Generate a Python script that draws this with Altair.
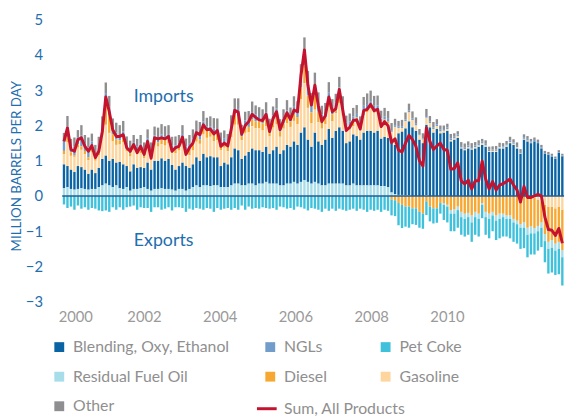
import altair as alt
import pandas as pd

# ---- monthly values, Jan 2000 .. Dec 2011 (million barrels per day, net imports > 0) ----
blend = [
    0.68, 0.60, 0.55, 0.50, 0.65, 0.60, 0.55, 0.45, 0.55, 0.45, 0.55, 0.75,
    0.80, 0.70, 0.80, 0.65, 0.75, 0.70, 0.60, 0.55, 0.70, 0.60, 0.60, 0.55,
    0.75, 0.60, 0.80, 0.80, 0.85, 0.80, 0.85, 0.70, 0.60, 0.65, 0.75, 0.70,
    0.60, 0.65, 0.80, 0.75, 0.90, 0.80, 0.85, 0.80, 0.80, 0.60, 0.70, 0.65,
    0.80, 1.00, 0.95, 0.75, 0.85, 0.90, 1.00, 1.00, 0.95, 0.90, 1.00, 0.85,
    0.95, 1.05, 0.90, 1.00, 1.10, 1.05, 1.15, 1.10, 1.40, 1.50, 1.20, 1.05,
    1.40, 1.20, 1.15, 1.30, 1.55, 1.30, 1.50, 1.60, 1.50, 1.20, 1.25, 1.40,
    1.40, 1.30, 1.50, 1.55, 1.55, 1.50, 1.55, 1.35, 1.40, 1.40, 1.45, 1.40,
    1.75, 1.80, 1.90, 2.10, 1.95, 1.85, 1.60, 1.50, 2.00, 1.95, 1.80, 1.90,
    1.78, 1.80, 1.85, 1.55, 1.60, 1.65, 1.35, 1.30, 1.35, 1.32, 1.35, 1.40,
    1.45, 1.40, 1.25, 1.25, 1.25, 1.35, 1.35, 1.40, 1.50, 1.45, 1.35, 1.20,
    1.60, 1.55, 1.50, 1.55, 1.50, 1.35, 1.20, 1.17, 1.12, 1.05, 1.22, 1.13,
]
ngls = [
    0.28, 0.30, 0.20, 0.25, 0.20, 0.30, 0.20, 0.28, 0.20, 0.12, 0.15, 0.15,
    0.20, 0.25, 0.20, 0.20, 0.15, 0.15, 0.10, 0.10, 0.10, 0.12, 0.15, 0.15,
    0.15, 0.10, 0.12, 0.12, 0.12, 0.12, 0.15, 0.12, 0.12, 0.12, 0.15, 0.12,
    0.12, 0.10, 0.15, 0.20, 0.15, 0.12, 0.15, 0.15, 0.12, 0.10, 0.12, 0.12,
    0.12, 0.15, 0.20, 0.12, 0.15, 0.20, 0.20, 0.20, 0.15, 0.15, 0.20, 0.15,
    0.15, 0.20, 0.15, 0.15, 0.15, 0.15, 0.20, 0.20, 0.30, 0.40, 0.35, 0.25,
    0.30, 0.25, 0.20, 0.15, 0.20, 0.15, 0.15, 0.20, 0.15, 0.10, 0.12, 0.12,
    0.10, 0.08, 0.12, 0.12, 0.10, 0.10, 0.10, 0.08, 0.08, 0.08, 0.05, 0.05,
    0.05, 0.05, 0.05, 0.05, 0.05, 0.05, 0.03, 0.03, 0.05, 0.05, 0.05, 0.05,
    0.05, 0.05, 0.05, 0.05, 0.05, 0.05, 0.05, 0.05, 0.05, 0.05, 0.05, 0.05,
    0.05, 0.05, 0.04, 0.04, 0.04, 0.04, 0.04, 0.04, 0.05, 0.04, 0.04, 0.04,
    0.05, 0.05, 0.04, 0.04, 0.03, 0.03, 0.02, 0.02, 0.02, 0.02, 0.02, 0.02,
]
pet_coke = [
    -0.24, -0.34, -0.30, -0.39, -0.27, -0.36, -0.32, -0.39, -0.34, -0.36, -0.41, -0.43,
    -0.41, -0.45, -0.32, -0.39, -0.32, -0.39, -0.32, -0.30, -0.27, -0.39, -0.32, -0.34,
    -0.34, -0.45, -0.32, -0.32, -0.39, -0.36, -0.32, -0.41, -0.32, -0.32, -0.34, -0.45,
    -0.36, -0.39, -0.34, -0.36, -0.39, -0.34, -0.36, -0.45, -0.34, -0.39, -0.36, -0.34,
    -0.39, -0.34, -0.39, -0.27, -0.39, -0.30, -0.36, -0.34, -0.36, -0.32, -0.34, -0.36,
    -0.34, -0.39, -0.30, -0.32, -0.36, -0.34, -0.39, -0.30, -0.32, -0.36, -0.41, -0.34,
    -0.36, -0.39, -0.45, -0.36, -0.42, -0.36, -0.42, -0.36, -0.39, -0.42, -0.39, -0.36,
    -0.42, -0.36, -0.39, -0.45, -0.39, -0.42, -0.39, -0.45, -0.39, -0.42, -0.45, -0.45,
    -0.63, -0.66, -0.57, -0.60, -0.45, -0.47, -0.45, -0.43, -0.39, -0.42, -0.43, -0.41,
    -0.30, -0.43, -0.45, -0.50, -0.50, -0.50, -0.50, -0.50, -0.50, -0.55, -0.50, -0.50,
    -0.38, -0.50, -0.55, -0.45, -0.55, -0.55, -0.55, -0.50, -0.55, -0.55, -0.55, -0.60,
    -0.58, -0.64, -0.60, -0.60, -0.55, -0.55, -0.60, -0.70, -0.70, -0.69, -0.72, -0.80,
]
resid = [
    0.22, 0.25, 0.20, 0.18, 0.20, 0.22, 0.20, 0.18, 0.20, 0.20, 0.25, 0.30,
    0.35, 0.30, 0.25, 0.30, 0.22, 0.20, 0.25, 0.15, 0.20, 0.20, 0.22, 0.25,
    0.20, 0.15, 0.20, 0.20, 0.22, 0.20, 0.20, 0.18, 0.15, 0.20, 0.20, 0.15,
    0.20, 0.25, 0.30, 0.25, 0.30, 0.30, 0.28, 0.30, 0.30, 0.25, 0.25, 0.25,
    0.30, 0.35, 0.35, 0.30, 0.30, 0.35, 0.35, 0.30, 0.35, 0.35, 0.40, 0.35,
    0.35, 0.35, 0.30, 0.30, 0.35, 0.35, 0.40, 0.35, 0.40, 0.45, 0.40, 0.35,
    0.40, 0.35, 0.30, 0.30, 0.35, 0.35, 0.35, 0.35, 0.35, 0.30, 0.30, 0.35,
    0.30, 0.30, 0.30, 0.30, 0.30, 0.30, 0.30, 0.28, 0.28, 0.25, 0.10, 0.05,
    0.03, 0.03, 0.02, 0.02, 0.00, 0.00, 0.00, 0.00, 0.02, 0.00, 0.00, 0.00,
    0.00, -0.05, -0.05, -0.10, -0.12, -0.10, -0.15, -0.15, -0.12, -0.20, -0.15, -0.15,
    -0.05, -0.15, -0.15, -0.10, -0.15, -0.15, -0.10, -0.10, -0.10, -0.10, -0.10, -0.10,
    -0.15, -0.20, -0.20, -0.15, -0.15, -0.15, -0.20, -0.20, -0.22, -0.20, -0.20, -0.20,
]
diesel = [
    0.10, 0.15, 0.10, 0.05, 0.10, 0.10, 0.10, 0.08, 0.10, 0.08, 0.08, 0.10,
    0.70, 0.50, 0.20, 0.15, 0.12, 0.15, 0.10, 0.10, 0.12, 0.10, 0.12, 0.10,
    0.12, 0.08, 0.15, 0.12, 0.15, 0.15, 0.12, 0.10, 0.10, 0.10, 0.12, 0.10,
    0.20, 0.25, 0.15, 0.12, 0.20, 0.20, 0.15, 0.20, 0.20, 0.15, 0.15, 0.15,
    0.25, 0.30, 0.25, 0.12, 0.20, 0.15, 0.20, 0.20, 0.20, 0.20, 0.20, 0.15,
    0.20, 0.25, 0.15, 0.15, 0.20, 0.15, 0.20, 0.20, 0.35, 0.50, 0.35, 0.30,
    0.40, 0.30, 0.20, 0.20, 0.20, 0.20, 0.15, 0.25, 0.15, 0.12, 0.12, 0.15,
    0.12, 0.10, 0.15, 0.12, 0.10, 0.10, 0.08, 0.05, 0.05, 0.05, -0.10, -0.12,
    -0.20, -0.25, -0.30, -0.30, -0.35, -0.35, -0.45, -0.50, -0.15, -0.30, -0.35, -0.35,
    -0.20, -0.20, -0.25, -0.40, -0.38, -0.30, -0.45, -0.50, -0.48, -0.55, -0.45, -0.50,
    -0.20, -0.45, -0.50, -0.45, -0.55, -0.50, -0.50, -0.55, -0.55, -0.65, -0.70, -0.80,
    -0.75, -0.90, -0.86, -0.86, -0.75, -0.60, -0.83, -1.00, -0.95, -1.00, -1.00, -1.14,
]
gasoline = [
    0.28, 0.67, 0.39, 0.43, 0.52, 0.49, 0.43, 0.39, 0.50, 0.35, 0.35, 0.66,
    0.87, 0.79, 0.50, 0.50, 0.49, 0.63, 0.42, 0.42, 0.41, 0.38, 0.39, 0.27,
    0.42, 0.37, 0.45, 0.40, 0.40, 0.43, 0.44, 0.33, 0.47, 0.44, 0.54, 0.34,
    0.36, 0.39, 0.44, 0.48, 0.56, 0.55, 0.55, 0.46, 0.48, 0.45, 0.42, 0.37,
    0.57, 0.67, 0.72, 0.53, 0.64, 0.56, 0.63, 0.62, 0.62, 0.61, 0.58, 0.49,
    0.64, 0.63, 0.48, 0.61, 0.62, 0.56, 0.58, 0.59, 0.94, 1.25, 0.90, 0.67,
    0.65, 0.54, 0.46, 0.44, 0.63, 0.47, 0.50, 0.68, 0.43, 0.36, 0.33, 0.23,
    0.41, 0.26, 0.49, 0.52, 0.64, 0.56, 0.54, 0.44, 0.44, 0.41, 0.27, 0.51,
    0.15, 0.10, 0.20, 0.25, 0.20, 0.15, 0.12, 0.10, 0.20, 0.12, 0.10, 0.08,
    0.05, 0.05, 0.05, 0.03, 0.03, 0.04, 0.02, 0.02, 0.03, 0.02, 0.03, 0.03,
    0.04, 0.03, 0.02, 0.03, 0.03, 0.03, 0.02, 0.03, 0.03, 0.03, 0.03, 0.01,
    0.02, 0.02, 0.01, -0.05, -0.10, -0.15, -0.25, -0.30, -0.30, -0.35, -0.30, -0.40,
]
other = [
    0.23, 0.30, 0.18, 0.25, 0.20, 0.30, 0.25, 0.28, 0.22, 0.25, 0.30, 0.30,
    0.30, 0.30, 0.25, 0.28, 0.28, 0.30, 0.22, 0.25, 0.20, 0.22, 0.25, 0.20,
    0.25, 0.22, 0.25, 0.30, 0.30, 0.28, 0.25, 0.25, 0.25, 0.22, 0.25, 0.22,
    0.25, 0.25, 0.30, 0.30, 0.30, 0.25, 0.28, 0.30, 0.30, 0.25, 0.22, 0.22,
    0.25, 0.30, 0.30, 0.20, 0.25, 0.25, 0.30, 0.25, 0.25, 0.25, 0.28, 0.20,
    0.25, 0.30, 0.20, 0.25, 0.30, 0.25, 0.30, 0.25, 0.35, 0.40, 0.35, 0.30,
    0.35, 0.30, 0.25, 0.25, 0.30, 0.28, 0.25, 0.30, 0.25, 0.20, 0.22, 0.25,
    0.25, 0.22, 0.25, 0.30, 0.30, 0.28, 0.28, 0.22, 0.25, 0.22, 0.20, 0.18,
    0.15, 0.18, 0.20, 0.20, 0.20, 0.18, 0.15, 0.15, 0.20, 0.15, 0.15, 0.15,
    0.12, 0.10, 0.10, 0.13, 0.10, 0.10, 0.11, 0.12, 0.12, 0.11, 0.10, 0.10,
    0.08, 0.10, 0.09, 0.09, 0.10, 0.09, 0.09, 0.09, 0.10, 0.09, 0.10, 0.08,
    0.08, 0.08, 0.07, 0.07, 0.07, 0.07, 0.06, 0.06, 0.06, 0.05, 0.06, 0.05,
]
sum_all = [
    1.55, 1.93, 1.32, 1.27, 1.60, 1.65, 1.41, 1.27, 1.43, 1.09, 1.27, 1.83,
    2.81, 2.39, 1.88, 1.69, 1.69, 1.74, 1.37, 1.27, 1.46, 1.23, 1.41, 1.18,
    1.55, 1.07, 1.65, 1.62, 1.65, 1.62, 1.69, 1.27, 1.37, 1.41, 1.67, 1.18,
    1.37, 1.50, 1.80, 1.74, 2.02, 1.88, 1.90, 1.76, 1.86, 1.41, 1.50, 1.42,
    1.90, 2.43, 2.38, 1.75, 2.00, 2.11, 2.32, 2.23, 2.16, 2.14, 2.32, 1.83,
    2.20, 2.39, 1.88, 2.14, 2.36, 2.17, 2.44, 2.39, 3.42, 4.14, 3.14, 2.58,
    3.14, 2.55, 2.11, 2.28, 2.81, 2.39, 2.48, 3.02, 2.44, 1.86, 1.95, 2.14,
    2.16, 1.90, 2.42, 2.46, 2.60, 2.42, 2.46, 1.97, 2.11, 1.99, 1.52, 1.62,
    1.30, 1.25, 1.50, 1.72, 1.60, 1.41, 1.00, 0.85, 1.93, 1.55, 1.32, 1.42,
    1.50, 1.32, 1.30, 0.76, 0.78, 0.94, 0.43, 0.34, 0.45, 0.20, 0.43, 0.43,
    0.99, 0.48, 0.20, 0.41, 0.17, 0.31, 0.35, 0.41, 0.48, 0.31, 0.17, -0.17,
    0.27, -0.04, -0.04, 0.00, 0.05, 0.00, -0.60, -0.95, -0.97, -1.12, -0.92, -1.34,
]

tick_pos = [3.25, 22.95, 44.7, 66.4, 88.15, 109.9]
tick_labels = ["2000", "2002", "2004", "2006", "2008", "2010"]
y_ticks = [-3, -2, -1, 0, 1, 2, 3, 4, 5]

SUM_NAME = "Sum, All Products"
series = {
    "Blending, Oxy, Ethanol": blend,
    "NGLs": ngls,
    "Pet Coke": pet_coke,
    "Residual Fuel Oil": resid,
    "Diesel": diesel,
    "Gasoline": gasoline,
    "Other": other,
}
colors = {
    "Blending, Oxy, Ethanol": "#0a63a3",
    "NGLs": "#729dcb",
    "Pet Coke": "#3fc1dc",
    "Residual Fuel Oil": "#a7dde9",
    "Diesel": "#f7a833",
    "Gasoline": "#fdd59d",
    "Other": "#8e8e90",
}
RED = "#c4122f"
BLUE_TXT = "#1f6eae"

pos_order = {"Residual Fuel Oil": 0, "Blending, Oxy, Ethanol": 1, "Gasoline": 2,
             "Diesel": 3, "NGLs": 4, "Other": 5, "Pet Coke": 6}
neg_order = {"Gasoline": 0, "Diesel": 1, "Residual Fuel Oil": 2, "Pet Coke": 3,
             "Blending, Oxy, Ethanol": 4, "NGLs": 5, "Other": 6}

rows = []
for name, vals in series.items():
    for m, v in enumerate(vals):
        rows.append({"m": m, "series": name, "value": v,
                     "ord": pos_order[name] if v >= 0 else neg_order[name]})
df = pd.DataFrame(rows)
df_sum = pd.DataFrame({"m": list(range(len(sum_all))), "net": sum_all, "label": SUM_NAME})

n = len(sum_all)
xscale = alt.Scale(domain=[-0.5, n - 0.5], nice=False, zero=False)
yscale = alt.Scale(domain=[-3, 5], nice=False, zero=False)

label_expr = " : ".join(
    f"abs(datum.value - {p}) < 0.5 ? '{l}'" for p, l in zip(tick_pos, tick_labels)
) + " : ''"

xaxis = alt.Axis(values=tick_pos, labelExpr=label_expr, domain=False, ticks=False, tickSize=0,
                 grid=False, title=None, labelFont="Lato", labelFontSize=15,
                 labelColor="#9a9a9a", labelPadding=8, labelFlush=False, labelOverlap=False)
yaxis = alt.Axis(values=y_ticks, domain=False, ticks=False, tickSize=0, grid=False,
                 labelFont="Lato", labelFontSize=15, labelColor=BLUE_TXT, labelPadding=15,
                 labelOverlap=False, labelFlush=False,
                 title="MILLION BARRELS PER DAY", titleFont="Lato", titleFontSize=13.5,
                 titleFontWeight="normal", titleColor=BLUE_TXT, titleAngle=270,
                 titleX=-41, titleY=148, titleAlign="center", titleBaseline="middle")

LEG_Y = 324
ROW_PAD = 14
ROW_STEP = 29.5


def legend(x, y, **kw):
    opts = dict(orient="none", legendX=x, legendY=y, title=None, columns=1,
                direction="vertical", padding=0, labelFont="Lato", labelFontSize=16,
                labelColor="#8f8f8f", labelOffset=6, rowPadding=ROW_PAD, labelLimit=400)
    opts.update(kw)
    return alt.Legend(**opts)


base = alt.Chart(df).transform_stack(
    stack="value", groupby=["m"], sort=[alt.SortField("ord", order="ascending")],
    as_=["y0", "y1"],
)


def bar_layer(names, lx):
    return base.transform_filter(
        alt.FieldOneOfPredicate(field="series", oneOf=names)
    ).mark_bar(size=2.4).encode(
        x=alt.X("m:Q", scale=xscale, axis=xaxis),
        y=alt.Y("y0:Q", scale=yscale, axis=yaxis),
        y2="y1:Q",
        color=alt.Color("series:N",
                        scale=alt.Scale(domain=names, range=[colors[k] for k in names]),
                        legend=legend(lx, LEG_Y, symbolType="square", symbolSize=100,
                                      symbolStrokeWidth=0)),
    )


col1 = bar_layer(["Blending, Oxy, Ethanol", "Residual Fuel Oil", "Other"], -6)
col2 = bar_layer(["NGLs", "Diesel"], 208)
col3 = bar_layer(["Pet Coke", "Gasoline"], 325)

zero = alt.Chart(pd.DataFrame({"zero": [0]})).mark_rule(color="#245c93", strokeWidth=1.5).encode(
    x=alt.XDatum(-0.5, scale=xscale, axis=xaxis),
    x2=alt.X2Datum(n - 0.5),
    y=alt.Y("zero:Q", scale=yscale, axis=yaxis),
)

line = alt.Chart(df_sum).mark_line(strokeWidth=3, strokeJoin="round").encode(
    x=alt.X("m:Q", scale=xscale, axis=xaxis),
    y=alt.Y("net:Q", scale=yscale, axis=yaxis),
    color=alt.Color("label:N", scale=alt.Scale(domain=[SUM_NAME], range=[RED]),
                    legend=legend(201, LEG_Y + 2 * ROW_STEP, symbolType="stroke", symbolSize=400,
                                  symbolStrokeWidth=3)),
)

imports_txt = alt.Chart(pd.DataFrame({"t": ["Imports"]})).mark_text(
    font="Lato", fontSize=18, color=BLUE_TXT, align="center", baseline="middle"
).encode(x=alt.XDatum(28.6, scale=xscale, axis=xaxis),
         y=alt.YDatum(2.82, scale=yscale, axis=yaxis), text="t:N")
exports_txt = alt.Chart(pd.DataFrame({"t": ["Exports"]})).mark_text(
    font="Lato", fontSize=18, color=BLUE_TXT, align="center", baseline="middle"
).encode(x=alt.XDatum(28.6, scale=xscale, axis=xaxis),
         y=alt.YDatum(-1.27, scale=yscale, axis=yaxis), text="t:N")

chart = alt.layer(col1, col2, col3, zero, line, imports_txt, exports_txt).resolve_scale(
    color="independent"
).properties(
    width=519, height=286,
    autosize=alt.AutoSizeParams(type="none"),
    padding={"left": 50, "top": 9, "right": 0, "bottom": 116},
).configure_view(stroke=None).configure_axis(labelOverlap=False, labelFlush=False)

chart.save("out.html", embed_options={"renderer": "svg", "actions": False})
